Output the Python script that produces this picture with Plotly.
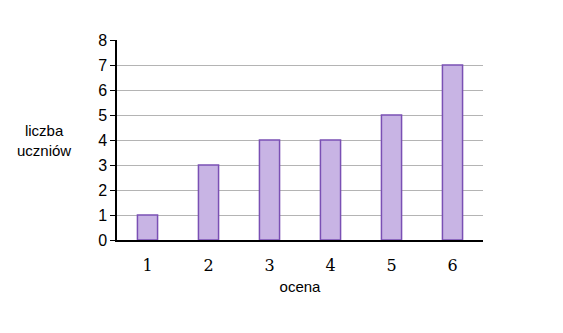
import plotly.graph_objects as go

categories = ["1", "2", "3", "4", "5", "6"]
counts = [1, 3, 4, 4, 5, 7]
y_ticks = [0, 1, 2, 3, 4, 5, 6, 7, 8]

fig = go.Figure()
fig.add_trace(go.Bar(
    x=categories, y=counts,
    marker=dict(color="#c8b4e4", line=dict(color="#7a50b4", width=1.5)),
    width=0.33,
))

fig.update_layout(
    width=563, height=333,
    margin=dict(l=117, r=80, t=40, b=93),
    paper_bgcolor="white", plot_bgcolor="white",
    showlegend=False,
    xaxis=dict(
        type="category",
        showline=True, linecolor="black", linewidth=1.5,
        showgrid=False, ticks="",
        tickfont=dict(family="DejaVu Serif", size=16, color="black"),
        ticklabelstandoff=10,
        title=dict(text="ocena", font=dict(family="Liberation Sans", size=15, color="black"), standoff=8),
    ),
    yaxis=dict(
        range=[0, 8], tickvals=y_ticks,
        showline=True, linecolor="black", linewidth=1.5,
        showgrid=True, gridcolor="#b4b4b4", gridwidth=1.2,
        ticks="outside", ticklen=5, tickcolor="black",
        tickfont=dict(family="Liberation Sans", size=16, color="black"),
        zeroline=False,
    ),
    annotations=[dict(
        text="liczba<br>uczniów", xref="paper", yref="paper",
        x=-0.2, y=0.5, xanchor="center", yanchor="middle", showarrow=False,
        font=dict(family="Liberation Sans", size=15, color="black"),
    )],
)

fig.write_html("out.html")
